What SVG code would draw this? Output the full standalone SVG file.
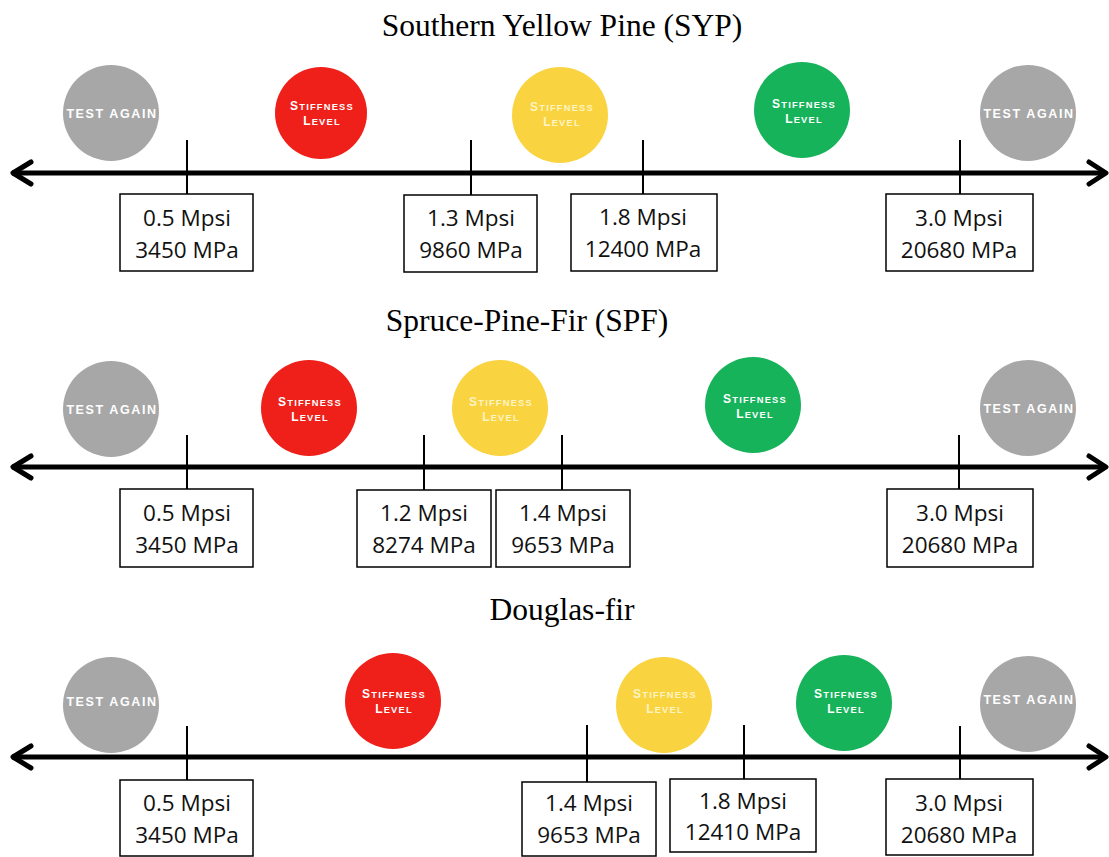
<svg xmlns="http://www.w3.org/2000/svg" width="1109" height="857" viewBox="0 0 1109 857">
<style>
.title{font-family:"Liberation Serif","Times New Roman",serif;font-size:31.5px;fill:#000;text-anchor:middle}
.axis{stroke:#000;stroke-width:5;fill:none}
.head{stroke:#000;stroke-width:5;fill:none;stroke-linecap:round;stroke-linejoin:round}
.tick{stroke:#000;stroke-width:2}
.box{fill:#fff;stroke:#000;stroke-width:1.5}
.val{font-family:"Open Sans","Liberation Sans",sans-serif;font-size:22.5px;fill:#111;text-anchor:middle}
.gray{fill:#a7a7a7}
.red{fill:#ef1f1a}
.yellow{fill:#f9d340}
.green{fill:#17b35b}
.ct{font-family:"Liberation Sans",Arial,sans-serif;font-weight:bold;fill:#fff;text-anchor:middle;letter-spacing:1.2px}
.ta{font-size:12.5px;letter-spacing:1.6px}
.big{font-size:12px}
.sm{font-size:9.3px}
.yt{fill:#fff4c4}
</style>

<!-- Row 1: SYP -->
<g id="title-syp"><text class="title" x="562" y="36">Southern Yellow Pine (SYP)</text></g>
<g id="syp-test-low"><circle class="gray" cx="111" cy="113" r="48"/><text class="ct ta" x="112" y="118">TEST AGAIN</text></g>
<g id="syp-red"><circle class="red" cx="321" cy="113" r="46"/><text class="ct" x="322" y="110"><tspan class="big">S</tspan><tspan class="sm">TIFFNESS</tspan></text><text class="ct" x="322" y="125"><tspan class="big">L</tspan><tspan class="sm">EVEL</tspan></text></g>
<g id="syp-yellow"><circle class="yellow" cx="560" cy="115" r="48"/><text class="ct yt" x="562" y="111"><tspan class="big">S</tspan><tspan class="sm">TIFFNESS</tspan></text><text class="ct yt" x="562" y="126"><tspan class="big">L</tspan><tspan class="sm">EVEL</tspan></text></g>
<g id="syp-green"><circle class="green" cx="802" cy="110" r="48"/><text class="ct" x="804" y="108"><tspan class="big">S</tspan><tspan class="sm">TIFFNESS</tspan></text><text class="ct" x="804" y="123"><tspan class="big">L</tspan><tspan class="sm">EVEL</tspan></text></g>
<g id="syp-test-high"><circle class="gray" cx="1028" cy="113" r="48"/><text class="ct ta" x="1029" y="118">TEST AGAIN</text></g>

<!-- Row 2: SPF -->
<g id="title-spf"><text class="title" x="527" y="331">Spruce-Pine-Fir (SPF)</text></g>
<g id="spf-test-low"><circle class="gray" cx="111" cy="409" r="48"/><text class="ct ta" x="112" y="414">TEST AGAIN</text></g>
<g id="spf-red"><circle class="red" cx="309" cy="408" r="48"/><text class="ct" x="310" y="406"><tspan class="big">S</tspan><tspan class="sm">TIFFNESS</tspan></text><text class="ct" x="310" y="421"><tspan class="big">L</tspan><tspan class="sm">EVEL</tspan></text></g>
<g id="spf-yellow"><circle class="yellow" cx="500" cy="408" r="48"/><text class="ct yt" x="501" y="406"><tspan class="big">S</tspan><tspan class="sm">TIFFNESS</tspan></text><text class="ct yt" x="501" y="421"><tspan class="big">L</tspan><tspan class="sm">EVEL</tspan></text></g>
<g id="spf-green"><circle class="green" cx="753" cy="405" r="48"/><text class="ct" x="755" y="403"><tspan class="big">S</tspan><tspan class="sm">TIFFNESS</tspan></text><text class="ct" x="755" y="418"><tspan class="big">L</tspan><tspan class="sm">EVEL</tspan></text></g>
<g id="spf-test-high"><circle class="gray" cx="1028" cy="408" r="48"/><text class="ct ta" x="1029" y="413">TEST AGAIN</text></g>

<!-- Row 3: Douglas-fir -->
<g id="title-df"><text class="title" x="562" y="620">Douglas-fir</text></g>
<g id="df-test-low"><circle class="gray" cx="111" cy="705" r="48"/><text class="ct ta" x="112" y="706">TEST AGAIN</text></g>
<g id="df-red"><circle class="red" cx="393" cy="701" r="48"/><text class="ct" x="394" y="698"><tspan class="big">S</tspan><tspan class="sm">TIFFNESS</tspan></text><text class="ct" x="394" y="713"><tspan class="big">L</tspan><tspan class="sm">EVEL</tspan></text></g>
<g id="df-yellow"><circle class="yellow" cx="664" cy="705" r="48"/><text class="ct yt" x="665" y="698"><tspan class="big">S</tspan><tspan class="sm">TIFFNESS</tspan></text><text class="ct yt" x="665" y="713"><tspan class="big">L</tspan><tspan class="sm">EVEL</tspan></text></g>
<g id="df-green"><circle class="green" cx="844" cy="703" r="48"/><text class="ct" x="846" y="698"><tspan class="big">S</tspan><tspan class="sm">TIFFNESS</tspan></text><text class="ct" x="846" y="713"><tspan class="big">L</tspan><tspan class="sm">EVEL</tspan></text></g>
<g id="df-test-high"><circle class="gray" cx="1028" cy="704" r="48"/><text class="ct ta" x="1029" y="704">TEST AGAIN</text></g>

<!-- Connectors: axes, arrowheads and ticks -->
<g id="connectors">
  <line class="axis" x1="12" y1="173" x2="1106" y2="173"/>
  <polyline class="head" points="31,162 13,173 31,184"/>
  <polyline class="head" points="1089,162 1106,173 1089,184"/>
  <line class="tick" x1="187" y1="140" x2="187" y2="194"/>
  <line class="tick" x1="471" y1="140" x2="471" y2="195"/>
  <line class="tick" x1="643" y1="140" x2="643" y2="194"/>
  <line class="tick" x1="960" y1="140" x2="960" y2="194"/>

  <line class="axis" x1="12" y1="467" x2="1106" y2="467"/>
  <polyline class="head" points="31,456 13,467 31,478"/>
  <polyline class="head" points="1089,456 1106,467 1089,478"/>
  <line class="tick" x1="187" y1="435" x2="187" y2="489"/>
  <line class="tick" x1="424" y1="435" x2="424" y2="490"/>
  <line class="tick" x1="562" y1="435" x2="562" y2="490"/>
  <line class="tick" x1="959" y1="435" x2="959" y2="489"/>

  <line class="axis" x1="12" y1="757" x2="1106" y2="757"/>
  <polyline class="head" points="31,746 13,757 31,768"/>
  <polyline class="head" points="1089,746 1106,757 1089,768"/>
  <line class="tick" x1="187" y1="726" x2="187" y2="780"/>
  <line class="tick" x1="587" y1="725" x2="587" y2="782"/>
  <line class="tick" x1="744" y1="725" x2="744" y2="779"/>
  <line class="tick" x1="960" y1="726" x2="960" y2="779"/>
</g>

<!-- Value boxes row 1 -->
<g id="syp-v1"><rect class="box" x="120" y="194" width="133" height="77"/><text class="val" x="187" y="226">0.5 Mpsi</text><text class="val" x="187" y="258">3450 MPa</text></g>
<g id="syp-v2"><rect class="box" x="404" y="195" width="133" height="77"/><text class="val" x="471" y="226">1.3 Mpsi</text><text class="val" x="471" y="258">9860 MPa</text></g>
<g id="syp-v3"><rect class="box" x="571" y="194" width="146" height="77"/><text class="val" x="643" y="225">1.8 Mpsi</text><text class="val" x="643" y="257">12400 MPa</text></g>
<g id="syp-v4"><rect class="box" x="886" y="194" width="147" height="77"/><text class="val" x="959" y="226">3.0 Mpsi</text><text class="val" x="959" y="258">20680 MPa</text></g>

<!-- Value boxes row 2 -->
<g id="spf-v1"><rect class="box" x="120" y="489" width="133" height="78"/><text class="val" x="187" y="521">0.5 Mpsi</text><text class="val" x="187" y="553">3450 MPa</text></g>
<g id="spf-v2"><rect class="box" x="357" y="490" width="134" height="77"/><text class="val" x="424" y="521">1.2 Mpsi</text><text class="val" x="424" y="553">8274 MPa</text></g>
<g id="spf-v3"><rect class="box" x="496" y="490" width="134" height="77"/><text class="val" x="563" y="521">1.4 Mpsi</text><text class="val" x="563" y="553">9653 MPa</text></g>
<g id="spf-v4"><rect class="box" x="887" y="489" width="146" height="78"/><text class="val" x="960" y="521">3.0 Mpsi</text><text class="val" x="960" y="553">20680 MPa</text></g>

<!-- Value boxes row 3 -->
<g id="df-v1"><rect class="box" x="120" y="780" width="133" height="76"/><text class="val" x="187" y="811">0.5 Mpsi</text><text class="val" x="187" y="843">3450 MPa</text></g>
<g id="df-v2"><rect class="box" x="522" y="782" width="134" height="74"/><text class="val" x="589" y="811">1.4 Mpsi</text><text class="val" x="589" y="843">9653 MPa</text></g>
<g id="df-v3"><rect class="box" x="670" y="779" width="146" height="73"/><text class="val" x="743" y="809">1.8 Mpsi</text><text class="val" x="743" y="840">12410 MPa</text></g>
<g id="df-v4"><rect class="box" x="886" y="779" width="147" height="76"/><text class="val" x="959" y="811">3.0 Mpsi</text><text class="val" x="959" y="843">20680 MPa</text></g>
</svg>
